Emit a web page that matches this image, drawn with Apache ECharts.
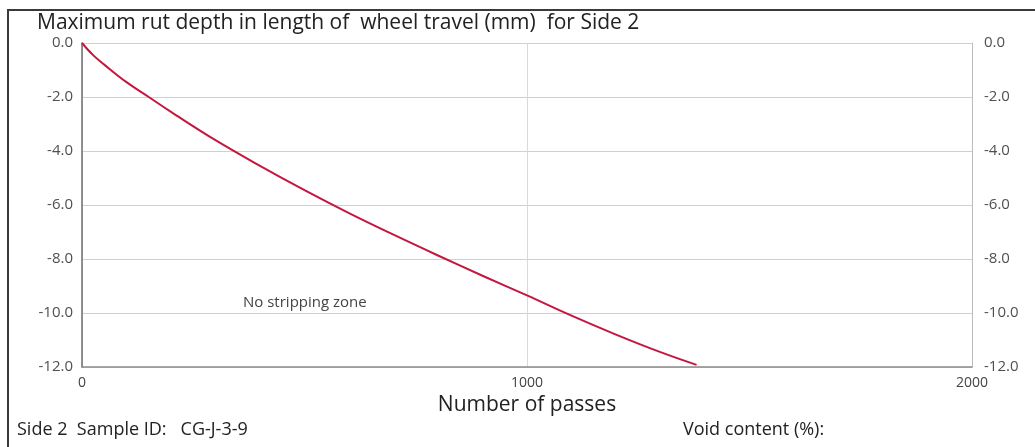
<!DOCTYPE html>
<html>
<head>
<meta charset="utf-8">
<script src="https://cdn.jsdelivr.net/npm/echarts@6/dist/echarts.min.js"></script>
<style>
  html, body { margin: 0; padding: 0; background: #fff; }
  #chart { width: 1035px; height: 447px; }
</style>
</head>
<body>
<div id="chart"></div>
<script>
// Rut depth measured along the wheel path, side 2
const passes = [0, 25, 50, 100, 150, 200, 300, 400, 500, 600, 700, 800, 900, 1000, 1100, 1200, 1300, 1381];
const rutDepth = [0, -0.45, -0.8, -1.45, -2.0, -2.55, -3.6, -4.55, -5.45, -6.3, -7.1, -7.87, -8.62, -9.35, -10.1, -10.8, -11.45, -11.92];
const yTicks = { min: -12, max: 0, step: 2 };
const xTicks = { min: 0, max: 2000, step: 1000 };

const titleText = 'Maximum rut depth in length of  wheel travel (mm)  for Side 2';
const xName = 'Number of passes';
const noteText = 'No stripping zone';
const sampleText = 'Side 2  Sample ID:   CG-J-3-9';
const voidText = 'Void content (%):';

const FONT = '"Open Sans", Lato, sans-serif';
const chart = echarts.init(document.getElementById('chart'), null, { renderer: 'canvas' });

const yLabel = v => v.toFixed(1);

chart.setOption({
  animation: false,
  backgroundColor: '#ffffff',
  textStyle: { fontFamily: FONT },
  grid: { left: 82, right: 63, top: 43, bottom: 80 },
  xAxis: {
    type: 'value',
    min: xTicks.min, max: xTicks.max, interval: xTicks.step,
    name: xName, nameLocation: 'middle', nameGap: 14,
    nameTextStyle: { fontSize: 21, color: '#222', fontFamily: FONT },
    axisLine: { show: true, onZero: false, lineStyle: { color: '#8c8c8c', width: 1.5 } },
    axisTick: { show: false },
    axisLabel: { color: '#444', fontSize: 14, margin: 9, fontFamily: FONT, formatter: v => String(v) },
    splitLine: { show: true, lineStyle: { color: '#d9d9d9', width: 1 } }
  },
  yAxis: [
    {
      type: 'value', position: 'left',
      min: yTicks.min, max: yTicks.max, interval: yTicks.step,
      axisLine: { show: true, onZero: false, lineStyle: { color: '#6e6e6e', width: 1.5 } },
      axisTick: { show: false },
      axisLabel: { color: '#505050', fontSize: 15, margin: 9, formatter: yLabel, fontFamily: FONT },
      splitLine: { show: true, lineStyle: { color: '#d0d0d0', width: 1.2 } }
    },
    {
      type: 'value', position: 'right',
      min: yTicks.min, max: yTicks.max, interval: yTicks.step,
      axisLine: { show: true, onZero: false, lineStyle: { color: '#bdbdbd', width: 1 } },
      axisTick: { show: false },
      axisLabel: { color: '#505050', fontSize: 15, margin: 12, formatter: yLabel, fontFamily: FONT },
      splitLine: { show: false }
    }
  ],
  series: [{
    type: 'line',
    data: passes.map((p, i) => [p, rutDepth[i]]),
    smooth: 0.4,
    showSymbol: false,
    lineStyle: { color: '#c4163f', width: 2 },
    z: 5
  }],
  graphic: [
    {
      type: 'rect', silent: true,
      shape: { x: 8, y: 10, width: 1040, height: 450 },
      style: { fill: 'none', stroke: '#3a3a3a', lineWidth: 2 }
    },
    {
      type: 'text', left: 37, top: 13,
      style: { text: titleText, fill: '#222', fontSize: 21, fontFamily: FONT }
    },
    {
      type: 'text', left: 243, top: 295,
      style: { text: noteText, fill: '#444', fontSize: 15, fontFamily: FONT }
    },
    {
      type: 'text', left: 17, top: 421,
      style: { text: sampleText, fill: '#222', fontSize: 18, fontFamily: FONT }
    },
    {
      type: 'text', left: 683, top: 421,
      style: { text: voidText, fill: '#222', fontSize: 18, fontFamily: FONT }
    }
  ]
});
</script>
</body>
</html>
